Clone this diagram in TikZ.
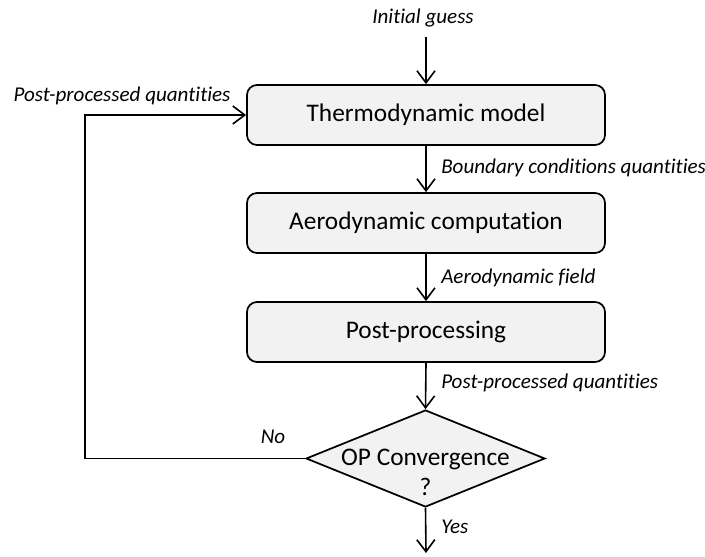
\documentclass[tikz,border=0pt]{standalone}
\usepackage{fontspec}
\setmainfont{Carlito}[Ligatures={NoCommon}]
\usetikzlibrary{shapes.geometric,arrows.meta}
\definecolor{boxfill}{HTML}{F2F2F2}
\begin{document}
\begin{tikzpicture}[x=0.75pt,y=-0.75pt,
  procbox/.style={draw=black,fill=boxfill,rounded corners=7.5pt,line width=1.3pt,
    minimum width=268.5pt,minimum height=45pt,inner sep=0pt,font=\fontsize{19pt}{23pt}\selectfont},
  decbox/.style={draw=black,fill=boxfill,diamond,line width=1.3pt,
    minimum width=179.25pt,minimum height=72.75pt,inner sep=0pt},
  lbl/.style={font=\fontsize{15.8pt}{18pt}\selectfont\itshape,inner sep=0pt},
  flow/.style={line width=1.2pt,-{Straight Barb[length=9pt,width=13.5pt,line width=1.2pt]}},
  line/.style={line width=1.2pt}]
\useasboundingbox (0,0) rectangle (705,556);
\node[procbox] (thermo) at (426,115) {Thermodynamic model};
\node[procbox] (aero) at (426,223) {Aerodynamic computation};
\node[procbox] (post) at (426,332) {Post-processing};
\node[decbox] (conv) at (425.5,458.5) {};
\node[align=center,inner sep=0pt,font=\fontsize{19pt}{22.5pt}\selectfont] (convtxt) at (425.5,472) {OP Convergence\\?};
\coordinate (start) at (426,37);
\coordinate (finish) at (426,553);
\coordinate (loopA) at (85,458.5);
\coordinate (loopB) at (85,115);
\node[lbl] (initlbl) at (423,18) {Initial guess};
\node[lbl,anchor=west] (bclbl) at (441,168) {Boundary conditions quantities};
\node[lbl,anchor=west] (aflbl) at (441,278) {Aerodynamic field};
\node[lbl,anchor=west] (pplbl) at (441,383) {Post-processed quantities};
\node[lbl,anchor=west] (yeslbl) at (441,527) {Yes};
\node[lbl] (nolbl) at (273,437) {No};
\node[lbl] (pplbl2) at (122,96) {Post-processed quantities};
\draw[flow] (start) -- (thermo.north);
\draw[flow] (thermo.south) -- (aero.north);
\draw[flow] (aero.south) -- (post.north);
\draw[flow] (post.south) -- (conv.north);
\draw[flow] (conv.south) -- (finish);
\draw[flow] (conv.west) -- (loopA) -- (loopB) -- (thermo.west);
\end{tikzpicture}
\end{document}
